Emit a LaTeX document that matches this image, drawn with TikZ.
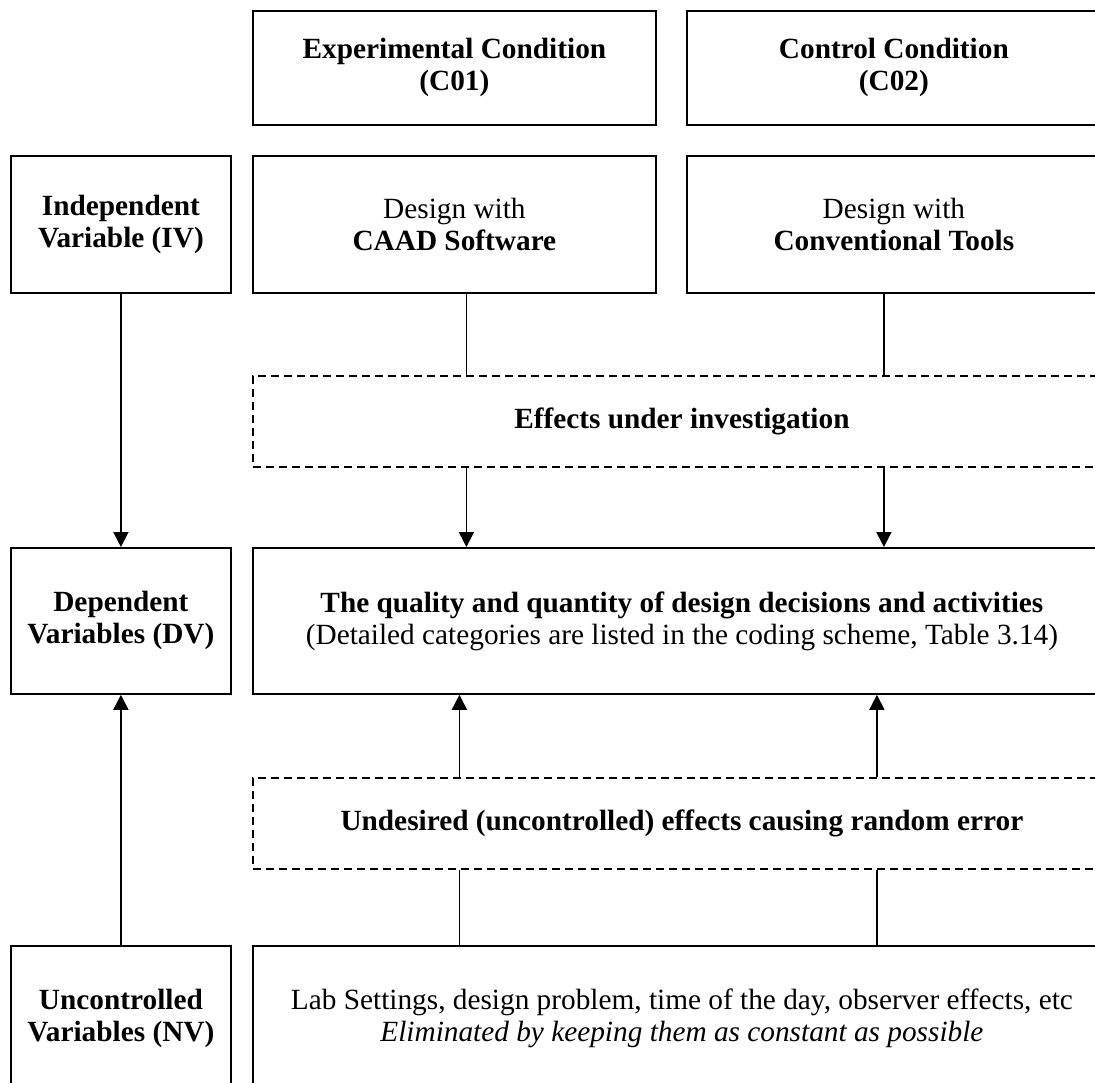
\documentclass[tikz,border=0pt]{standalone}
\usepackage{fontspec}
\setmainfont{Liberation Serif}
\usetikzlibrary{arrows.meta}

\begin{document}
\begin{tikzpicture}[x=1pt,y=-1pt,
			>={Triangle[length=15pt,width=15pt]},
			line width=1.8pt,
			every node/.style={
				draw,
				anchor=north west,
				inner sep=0pt,
				align=center,
				font=\fontsize{29.3}{32}\selectfont
			},
			varbox/.style={minimum width=220pt},
			leftbox/.style={minimum width=403pt},
			rightbox/.style={minimum width=414pt},
			widebox/.style={minimum width=858pt},
			effbox/.style={widebox,minimum height=91pt,dash pattern=on 8pt off 5pt}]
			
			\clip(0,0)rectangle(1095,1082);
			
			\node(exp)[leftbox,minimum height=114pt] at (252,10){\textbf{Experimental Condition}\\\textbf{(C01)}};
			
			\node(ctl)[rightbox,minimum height=114pt] at (686,10){\textbf{Control Condition}\\\textbf{(C02)}};
			
			\node(iv)[varbox,minimum height=137pt] at (10,155){\textbf{Independent}\\\textbf{Variable (IV)}};
			
			\node(caad)[leftbox,minimum height=137pt] at (252,155){Design with\\\textbf{CAAD Software}};
			
			\node(conv)[rightbox,minimum height=137pt] at (686,155){Design with\\\textbf{Conventional Tools}};
			
			\node(eff)[effbox] at (252,375){\textbf{Effects under investigation}};
			
			\node(dv)[varbox,minimum height=146pt] at (10,547){\textbf{Dependent}\\\textbf{Variables (DV)}};
			
			\node(qual)[widebox,minimum height=146pt] at (252,547){\textbf{The quality and quantity of design decisions and activities}\\(Detailed categories are listed in the coding scheme, Table 3.14)};
			
			\node(und)[effbox] at (252,777){\textbf{Undesired (uncontrolled) effects causing random error}};
			
			\node(nv)[varbox,minimum height=145pt] at (10,945){\textbf{Uncontrolled}\\\textbf{Variables (NV)}};
			
			\node(lab)[widebox,minimum height=145pt] at (252,945){Lab Settings, design problem, time of the day, observer effects, etc\\\textit{Eliminated by keeping them as constant as possible}};
			
			\coordinate(up1) at ([xshift=12pt]caad.south);
			\coordinate(up2) at ([xshift=-10pt]conv.south);
			\coordinate(lo1) at ([xshift=5pt]caad.south);
			\coordinate(lo2) at ([xshift=-17pt]conv.south);
			
			\draw[->](iv)--(dv);
			
			\draw[->](nv)--(dv);
			
			\draw(up1)--(up1|-eff.north);
			
			\draw(up2)--(up2|-eff.north);
			
			\draw[->](up1|-eff.south)--(up1|-qual.north);
			
			\draw[->](up2|-eff.south)--(up2|-qual.north);
			
			\draw[->](lo1|-und.north)--(lo1|-qual.south);
			
			\draw[->](lo2|-und.north)--(lo2|-qual.south);
			
			\draw(lo1|-lab.north)--(lo1|-und.south);
			
			\draw(lo2|-lab.north)--(lo2|-und.south);
			
		\end{tikzpicture}
\end{document}
